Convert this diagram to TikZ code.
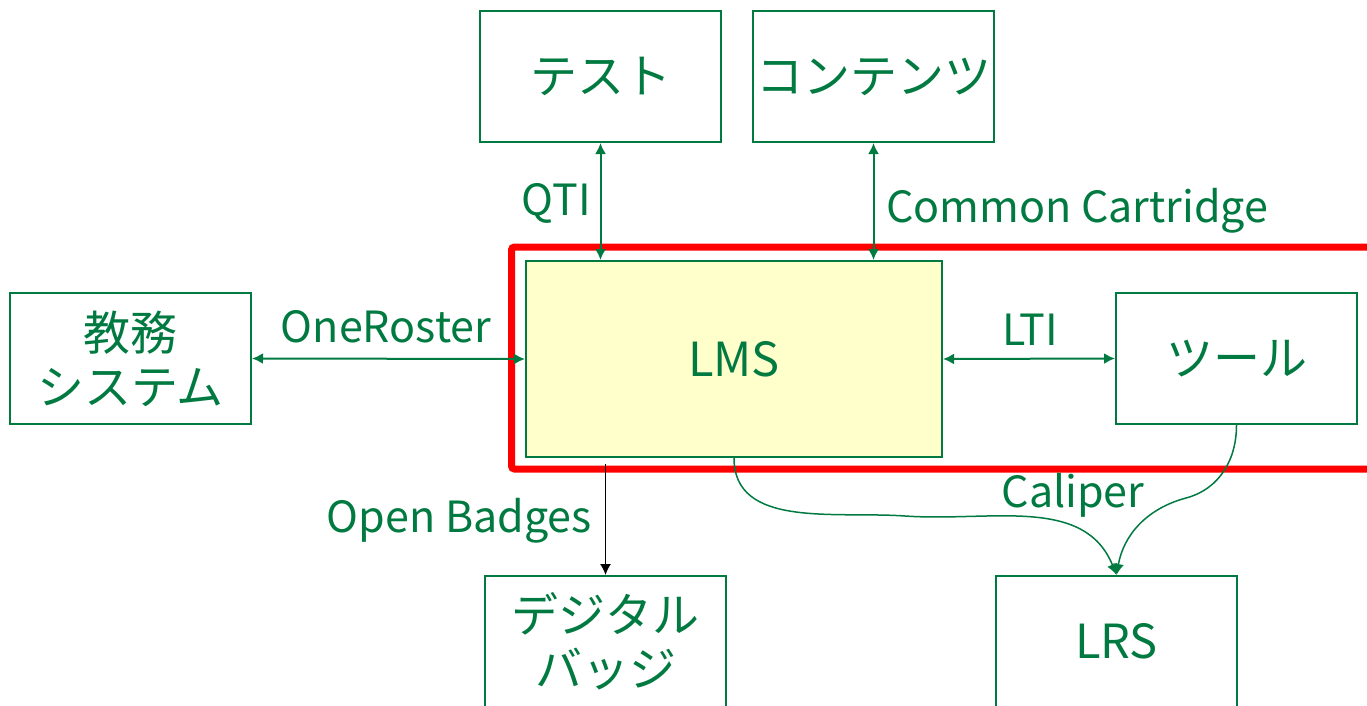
\documentclass[tikz,border=0pt]{standalone}
\usepackage{fontspec}
\setmainfont{Noto Sans CJK JP}
\usetikzlibrary{calc}
\usetikzlibrary{arrows.meta}
\definecolor{kgreen}{RGB}{0,122,64}
\definecolor{lmsfill}{RGB}{255,255,204}

\begin{document}
\begin{tikzpicture}[
        x=1pt, y=-1pt,
        font=\fontsize{43}{54}\selectfont,
        every node/.style={text=kgreen},
        box/.style={draw=kgreen,line width=2pt,minimum width=241pt,minimum height=131pt,align=center,font=\fontsize{47}{54}\selectfont},
        lbl/.style={inner sep=0pt},
        link/.style={draw=kgreen,line width=2pt},
        >={Latex[length=11pt,width=11pt]}
    ]
        \useasboundingbox (0,0) rectangle (1367,706);
        \draw[red, line width=7pt, rounded corners=3pt] (511.5,247) rectangle (1372,469);
        \node[box] (test) at (600.5,76.5) {テスト};
        \node[box] (cont) at (873.5,76.5) {コンテンツ};
        \node[box] (kyomu) at (130.5,358.5) {教務\\システム};
        \node[box,fill=lmsfill,minimum width=416pt,minimum height=196pt] (lms) at (734,359) {LMS};
        \node[box] (tool) at (1236.5,358.5) {ツール};
        \node[box] (badge) at (605.5,641.5) {デジタル\\バッジ};
        \node[box] (lrs) at (1116.5,641.5) {LRS};
        \node[lbl,anchor=east] (qti) at (591,203) {QTI};
        \node[lbl,anchor=west] (cc) at (886,211) {Common Cartridge};
        \node[lbl] (oner) at (386,327) {OneRoster};
        \node[lbl] (lti) at (1030,330) {LTI};
        \node[lbl,anchor=east] (ob) at (592,521) {Open Badges};
        \node[lbl] (cal) at (1073,495) {Caliper};
        \coordinate (calA) at (905,516);
        \coordinate (calB) at (1186,498);
        \draw[link,<->] (test.south) -- (test.south |- lms.north);
        \draw[link,<->] (cont.south) -- (cont.south |- lms.north);
        \draw[link,<->] (kyomu.east) -- (lms.west);
        \draw[link,<->] (lms.east) -- (tool.west);
        \draw[->,line width=1.5pt,black,shorten <=6pt] (badge.north |- lms.south) -- (badge.north);
        \draw[link,line width=1.5pt,->] (lms.south) to[out=-90,in=176] (calA) to[out=-4,in=112] (lrs.north);
        \draw[link,line width=1.5pt,->] (tool.south) to[out=-90,in=15] (calB) to[out=195,in=80] (lrs.north);
    \end{tikzpicture}
\end{document}
